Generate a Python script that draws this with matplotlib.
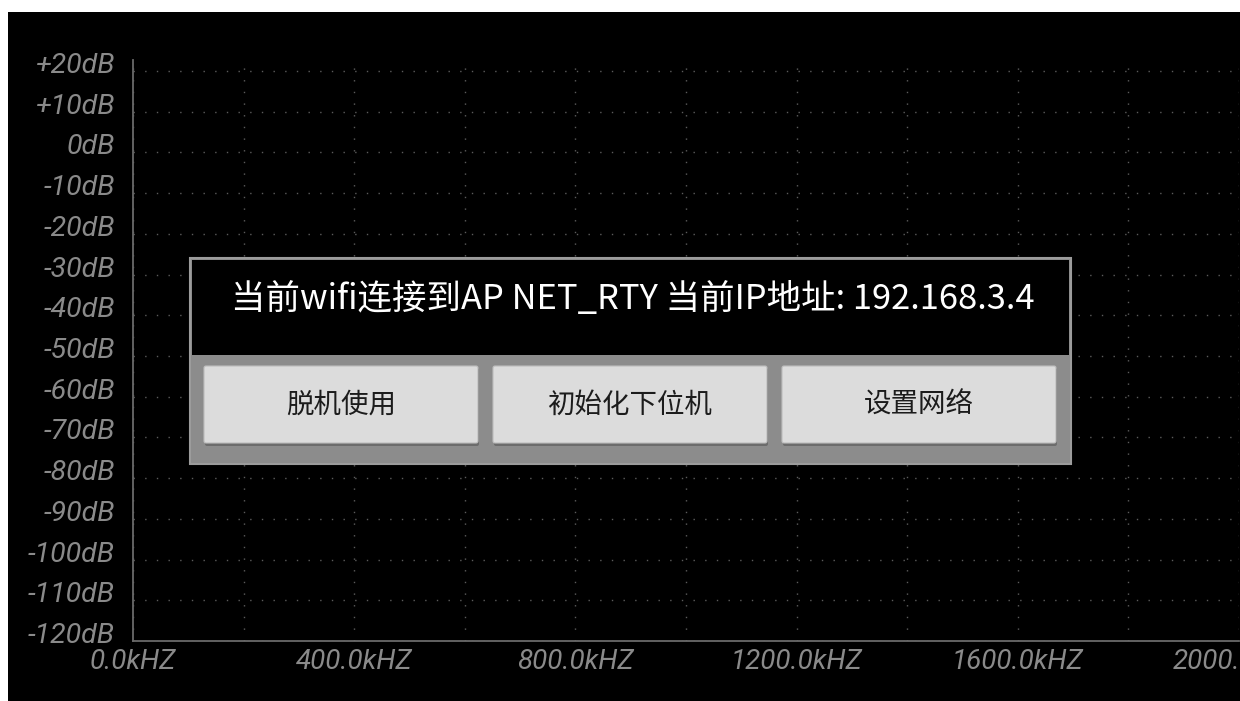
import matplotlib
matplotlib.use('Agg')
import matplotlib.pyplot as plt
import matplotlib.transforms as mtransforms
from matplotlib.patches import Rectangle, FancyBboxPatch
from matplotlib.ticker import MultipleLocator

# axis values
db_ticks = [-120, -110, -100, -90, -80, -70, -60, -50, -40, -30, -20, -10, 0, 10, 20]
db_labels = ['-120dB', '-110dB', '-100dB', '-90dB', '-80dB', '-70dB', '-60dB', '-50dB',
             '-40dB', '-30dB', '-20dB', '-10dB', '0dB', '+10dB', '+20dB']
khz_ticks = [0, 400, 800, 1200, 1600, 2000]
khz_labels = ['0.0kHZ', '400.0kHZ', '800.0kHZ', '1200.0kHZ', '1600.0kHZ', '2000.0kHZ']

# dialog texts
dialog_title = '当前wifi连接到AP NET_RTY 当前IP地址: 192.168.3.4'
dialog_buttons = ['脱机使用', '初始化下位机', '设置网络']

W, H = 1240, 701
fig = plt.figure(figsize=(W / 100, H / 100), dpi=100, facecolor='white')

# black screen area (white strip left and top)
fig.add_artist(Rectangle((8 / W, 0), 1 - 8 / W, 1 - 12 / H, transform=fig.transFigure,
                         facecolor='black', edgecolor='none', zorder=0))

############ spectrum axes ############
ax = fig.add_axes([133 / W, 60 / H, (1239 - 133) / W, 581 / H])
ax.set_facecolor('black')
ax.set_xlim(0, 2000)
ax.set_ylim(-120, 20 + 11 / (570 / 140))

ax.set_yticks(db_ticks)
ax.set_yticklabels(db_labels)
ax.set_xticks(khz_ticks)
ax.set_xticklabels(khz_labels)
ax.xaxis.set_minor_locator(MultipleLocator(200))
ax.tick_params(which='both', length=0)
ax.tick_params(axis='y', pad=13)
ax.tick_params(axis='x', pad=6)

for lab in ax.get_yticklabels() + ax.get_xticklabels():
    lab.set_fontfamily('Roboto')
    lab.set_fontstyle('italic')
    lab.set_color('#8a8a8a')
for lab in ax.get_yticklabels():
    lab.set_fontsize(20.5)
for lab in ax.get_xticklabels():
    lab.set_fontsize(20)
# y labels sit a little above their grid line
shift = mtransforms.ScaledTranslation(0, 8 / 100, fig.dpi_scale_trans)
for lab in ax.get_yticklabels():
    lab.set_transform(lab.get_transform() + shift)

ax.grid(True, which='both', color='#5c5c5c', linewidth=1.0, linestyle=(0, (1, 7.4)))
ax.set_axisbelow(True)

for s in ['top', 'right']:
    ax.spines[s].set_visible(False)
for s in ['left', 'bottom']:
    ax.spines[s].set_color('#6a6a6a')
    ax.spines[s].set_linewidth(1.3)

############ dialog overlay ############
ov = fig.add_axes([0, 0, 1, 1], facecolor='none')
ov.set_xlim(0, W)
ov.set_ylim(H, 0)
ov.axis('off')

ov.add_patch(Rectangle((190, 258), 881, 206, facecolor='#8c8c8c', edgecolor='#9c9c9c', linewidth=1.5))
ov.add_patch(Rectangle((192, 260), 877, 95, facecolor='black', edgecolor='none'))
ov.text(633, 300, dialog_title, color='white', fontsize=24.8, ha='center', va='center',
        family=['Noto Sans CJK SC', 'DejaVu Sans'])

btn_x = [204, 493, 782]
for bx, label in zip(btn_x, dialog_buttons):
    ov.add_patch(FancyBboxPatch((bx + 1, 368), 274, 78, boxstyle='round,pad=0,rounding_size=2',
                                facecolor='#6c6c6c', edgecolor='none'))
    ov.add_patch(FancyBboxPatch((bx, 366), 274, 77, boxstyle='round,pad=0,rounding_size=2',
                                facecolor='#dcdcdc', edgecolor='#bdbdbd', linewidth=0.8))
    ov.text(bx + 137, 405, label, color='#1c1c1c', fontsize=19.8, ha='center', va='center',
            family=['Noto Sans CJK SC', 'DejaVu Sans'])

fig.savefig('out.png', dpi=100, facecolor='white')
